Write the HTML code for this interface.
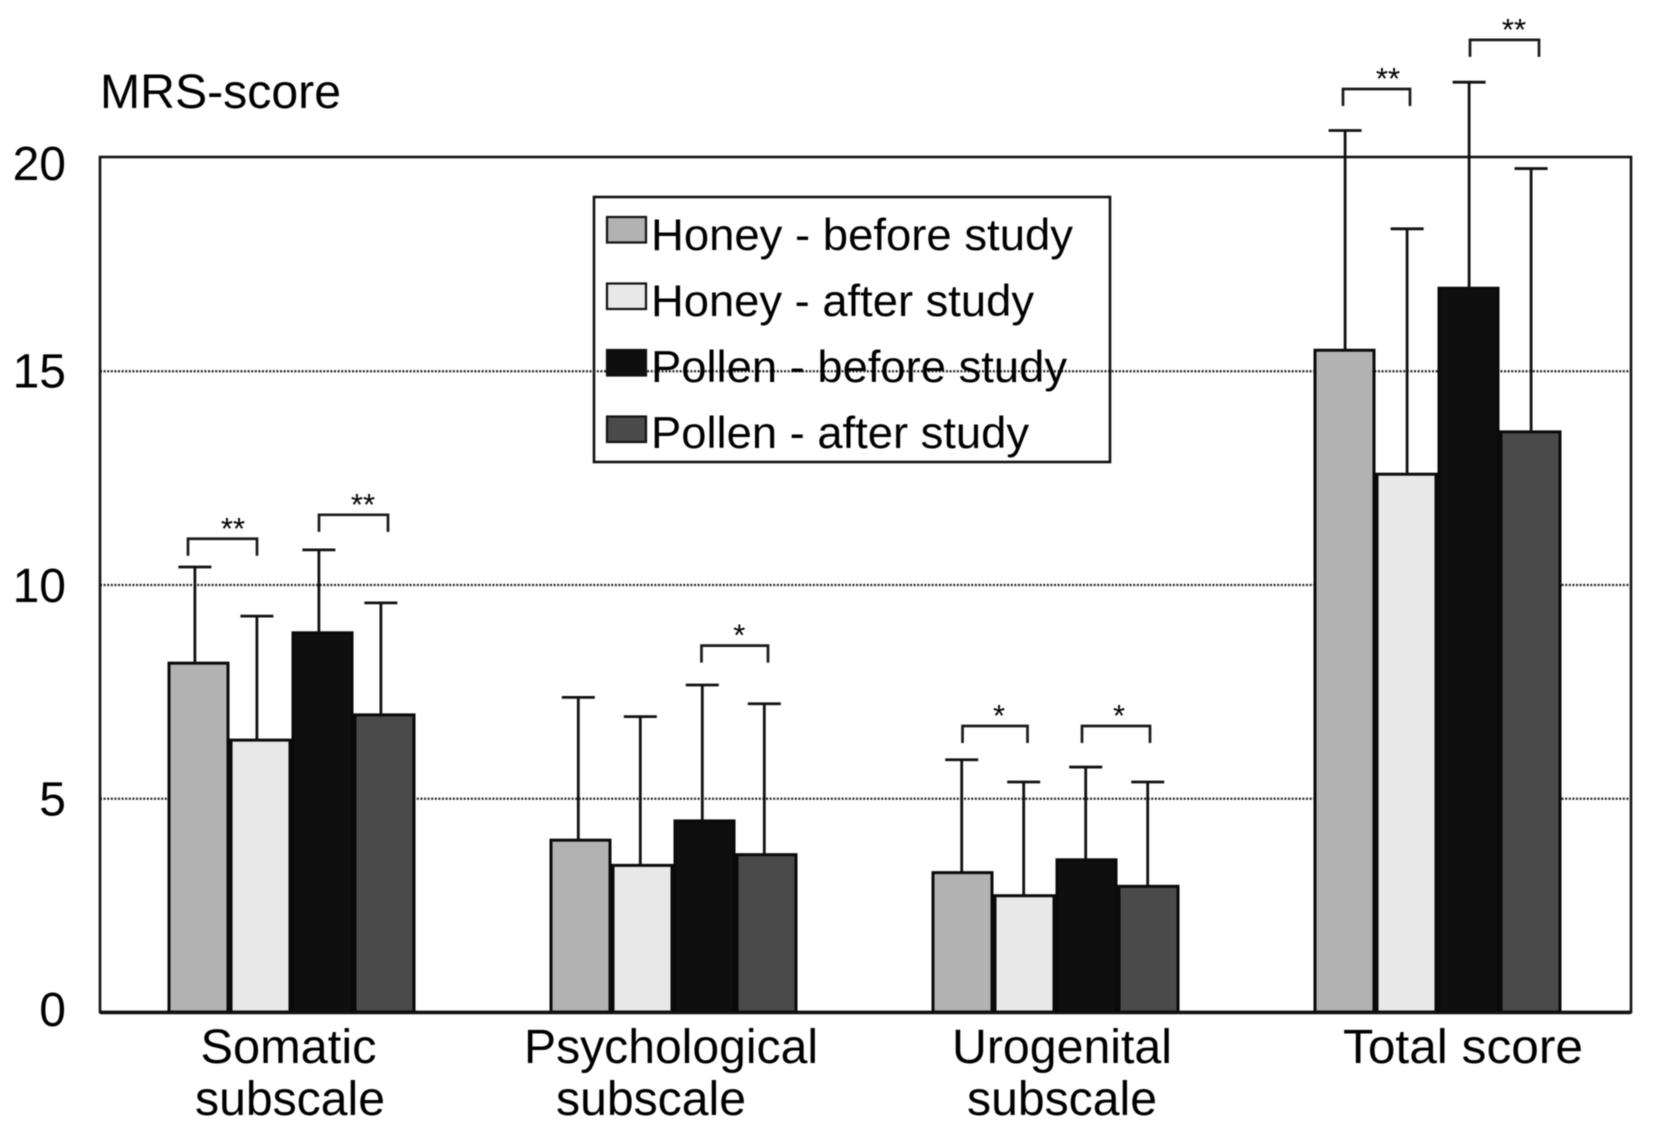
<!DOCTYPE html>
<html lang="en">
<head>
<meta charset="utf-8">
<title>MRS-score chart</title>
<style>
  html, body { margin: 0; padding: 0; background: #fff; }
  svg { display: block; filter: blur(0.45px); }
  text { font-family: "Liberation Sans", Arial, sans-serif; fill: #000; }
</style>
</head>
<body>
<svg id="chart" xmlns="http://www.w3.org/2000/svg" width="1654" height="1131" viewBox="0 0 1654 1131">
  <rect x="0" y="0" width="1654" height="1131" fill="#ffffff"/>
  <text x="100" y="108" font-size="48" textLength="241" lengthAdjust="spacingAndGlyphs">MRS-score</text>
</svg>
<script>
// ---- chart data ----
const categories = [["Somatic", "subscale"], ["Psychological", "subscale"], ["Urogenital", "subscale"], ["Total score"]];
const seriesNames = ["Honey - before study", "Honey - after study", "Pollen - before study", "Pollen - after study"];
const honeyBefore = [8.16, 4.02, 3.26, 15.48];
const honeyAfter = [6.36, 3.43, 2.72, 12.58];
const pollenBefore = [8.87, 4.47, 3.56, 16.93];
const pollenAfter = [6.95, 3.68, 2.94, 13.57];
const honeyBeforeErrTop = [10.41, 7.36, 5.9, 20.62];
const honeyAfterErrTop = [9.26, 6.91, 5.38, 18.32];
const pollenBeforeErrTop = [10.81, 7.65, 5.73, 21.75];
const pollenAfterErrTop = [9.57, 7.21, 5.38, 19.73];
const yTicks = [0, 5, 10, 15, 20];
const gridValues = [5, 10, 15];
const seriesColors = ["#b2b2b2", "#e8e8e8", "#0f0f0f", "#4a4a4a"];
// significance brackets: category, first series, second series, level, marker
const sigCategory = [0, 0, 1, 2, 2, 3, 3];
const sigFrom = [0, 2, 2, 0, 2, 0, 2];
const sigTo = [1, 3, 3, 1, 3, 1, 3];
const sigLevel = [11.07, 11.63, 8.57, 6.69, 6.69, 21.59, 22.74];
const sigLabel = ["**", "**", "*", "*", "*", "**", "**"];

const seriesValues = [honeyBefore, honeyAfter, pollenBefore, pollenAfter];
const seriesErrTop = [honeyBeforeErrTop, honeyAfterErrTop, pollenBeforeErrTop, pollenAfterErrTop];

// ---- axis functions ----
const svg = document.getElementById('chart');
const NS = 'http://www.w3.org/2000/svg';
const plot = { left: 100, right: 1631, top: 157, bottom: 1012 };
const yMax = 20;
function yScale(v) { return plot.bottom - (v / yMax) * (plot.bottom - plot.top); }
function tickBaseline(v) { return 1026 - v * 42.3 + (v === 15 ? -4 : 0) + (v === 10 ? -1 : 0) + (v === 5 ? 1 : 0); }
function groupLeft(c) { return 169 + c * 382; }
function barLeft(c, s) { return groupLeft(c) + s * 62; }
const barWidth = 59;
function barCenter(c, s) { return barLeft(c, s) + barWidth / 2; }
function errX(c, s) { return barCenter(c, s) - 1.5 + (c - 1.5) * 1.4; }

// hand-placement nudges of the bracket annotations, in pixels
const bracketLeftNudge = [-10.5, -3.5, -3, 0, -4.5, -1.5, 1.5];
const bracketRightNudge = [-3.5, 3.5, 1.5, 3, 1.5, 3.5, 8.5];
const markerNudge = [10.5, 9.5, 4.5, 4, 3, 11.5, 9.5];

function make(tag, attrs, parent) {
  const el = document.createElementNS(NS, tag);
  for (const k in attrs) el.setAttribute(k, attrs[k]);
  (parent || svg).appendChild(el);
  return el;
}

// ---- grid ----
gridValues.forEach(function (v) {
  const el = make('line', { x1: plot.left, x2: plot.right, y1: yScale(v) + 0.5, y2: yScale(v) + 0.5, stroke: '#222', 'stroke-width': 2.2, 'stroke-dasharray': '2 1.6' });
  
  
});

// ---- plot frame ----
const frame = make('rect', { x: plot.left, y: plot.top, width: plot.right - plot.left, height: plot.bottom - plot.top, fill: 'none', stroke: '#111', 'stroke-width': 2.6 });



// ---- y tick labels ----
yTicks.forEach(function (v) {
  const el = make('text', { x: 66, y: tickBaseline(v), 'font-size': 48, 'text-anchor': 'end' });
  el.textContent = String(v);
  
  
});

// ---- bars ----
seriesValues.forEach(function (values, s) {
  values.forEach(function (v, c) {
    const el = make('rect', { x: barLeft(c, s), y: yScale(v), width: barWidth, height: plot.bottom - yScale(v), fill: seriesColors[s], stroke: '#0a0a0a', 'stroke-width': 3 });
    
    
  });
});

// ---- x axis line ----
const xAxis = make('line', { x1: plot.left, x2: plot.right, y1: plot.bottom + 0.5, y2: plot.bottom + 0.5, stroke: '#111', 'stroke-width': 3.6 });



// ---- error bars ----
seriesErrTop.forEach(function (tops, s) {
  tops.forEach(function (t, c) {
    const x = errX(c, s);
    const stem = make('line', { x1: x, x2: x, y1: yScale(seriesValues[s][c]), y2: yScale(t), stroke: '#111', 'stroke-width': 2.8 });
    
    
    const cap = make('line', { x1: x - 16.5, x2: x + 16.5, y1: yScale(t), y2: yScale(t), stroke: '#111', 'stroke-width': 2.8 });
    
    
  });
});

// ---- significance brackets ----
sigLevel.forEach(function (lvl, i) {
  const c = sigCategory[i];
  const x1 = barCenter(c, sigFrom[i]) + bracketLeftNudge[i];
  const x2 = barCenter(c, sigTo[i]) + bracketRightNudge[i];
  const y = yScale(lvl);
  const br = make('path', { d: 'M' + x1 + ' ' + (y + 17) + 'V' + y + 'H' + x2 + 'V' + (y + 17), fill: 'none', stroke: '#1a1a1a', 'stroke-width': 2.7 });
  
  
  const st = make('text', { x: (x1 + x2) / 2 + markerNudge[i], y: y, 'font-size': 31, 'text-anchor': 'middle' });
  st.textContent = sigLabel[i];
  
  
});

// ---- category labels ----
const catCenters = [288.5, 661, 1062, 1463];
const catLineWidth = { "Somatic": 176, "Psychological": 294, "Urogenital": 220, "Total score": 240 };
categories.forEach(function (lines, c) {
  lines.forEach(function (line, l) {
    let cx = catCenters[c];
    if (line === 'Psychological') cx = 671;
    if (c === 0 && l === 1) cx = 290;
    if (c === 1 && l === 1) cx = 651;
    const attrs = { x: cx, y: 1063 + l * 52, 'font-size': 48, 'text-anchor': 'middle', lengthAdjust: 'spacingAndGlyphs' };
    attrs.textLength = catLineWidth[line] || 190;
    const el = make('text', attrs);
    el.textContent = line;
    
    
  });
});

// ---- legend ----
const legendGroup = make('g', {});


const legendBox = make('rect', { x: 594, y: 197, width: 516, height: 265, fill: 'none', stroke: '#111', 'stroke-width': 2.6 }, legendGroup);


const legendTextWidths = [422, 383, 416, 378];
seriesNames.forEach(function (name, s) {
  const swatch = make('rect', { x: 607, y: 217 + s * 66.5, width: 39, height: 25.5, fill: seriesColors[s], stroke: '#111', 'stroke-width': 2.2 }, legendGroup);
  
  
  const label = make('text', { x: 651, y: 250 + s * 66, 'font-size': 44.5, textLength: legendTextWidths[s], lengthAdjust: 'spacingAndGlyphs', 'word-spacing': 0 }, legendGroup);
  label.textContent = name;
  
  
});
</script>
</body>
</html>
